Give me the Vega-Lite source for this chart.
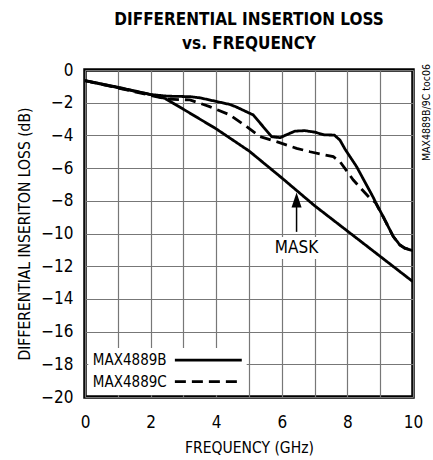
{
  "$schema": "https://vega.github.io/schema/vega-lite/v6.json",
  "autosize": "none",
  "width": 328,
  "height": 327,
  "padding": {"left": 85, "top": 70, "right": 20, "bottom": 63},
  "background": "white",
  "config": {
    "view": {"stroke": "black", "strokeWidth": 3.5},
    "font": "DejaVu Sans Condensed, sans-serif",
    "axis": {
      "domain": false,
      "ticks": false,
      "gridColor": "#777777",
      "gridWidth": 1.2,
      "gridOpacity": 1,
      "labelOverlap": false,
      "labelFont": "DejaVu Sans Condensed, sans-serif",
      "labelFontSize": 17,
      "labelColor": "black",
      "titleFont": "DejaVu Sans Condensed, sans-serif",
      "titleFontSize": 15.5,
      "titleFontWeight": "normal",
      "titleColor": "black"
    }
  },
  "title": {
    "text": ["DIFFERENTIAL INSERTION LOSS", "vs. FREQUENCY"],
    "font": "DejaVu Sans Condensed, sans-serif",
    "fontSize": 17,
    "fontWeight": "bold",
    "color": "black",
    "anchor": "middle",
    "lineHeight": 24,
    "offset": 8
  },
  "datasets": {
    "curves": [
      {"series": "MAX4889B", "f": 0, "loss": -0.65},
      {"series": "MAX4889B", "f": 1, "loss": -1.08},
      {"series": "MAX4889B", "f": 2, "loss": -1.5},
      {"series": "MAX4889B", "f": 2.5, "loss": -1.6},
      {"series": "MAX4889B", "f": 3.2, "loss": -1.63},
      {"series": "MAX4889B", "f": 3.5, "loss": -1.7},
      {"series": "MAX4889B", "f": 4.4, "loss": -2.1},
      {"series": "MAX4889B", "f": 4.6, "loss": -2.25},
      {"series": "MAX4889B", "f": 5.13, "loss": -2.75},
      {"series": "MAX4889B", "f": 5.69, "loss": -4.08},
      {"series": "MAX4889B", "f": 5.95, "loss": -4.14},
      {"series": "MAX4889B", "f": 6.1, "loss": -4.0},
      {"series": "MAX4889B", "f": 6.4, "loss": -3.74},
      {"series": "MAX4889B", "f": 6.7, "loss": -3.71},
      {"series": "MAX4889B", "f": 7.0, "loss": -3.8},
      {"series": "MAX4889B", "f": 7.3, "loss": -3.97},
      {"series": "MAX4889B", "f": 7.6, "loss": -3.98},
      {"series": "MAX4889B", "f": 7.77, "loss": -4.28},
      {"series": "MAX4889B", "f": 7.93, "loss": -4.85},
      {"series": "MAX4889B", "f": 8.28, "loss": -5.91},
      {"series": "MAX4889B", "f": 8.79, "loss": -7.8},
      {"series": "MAX4889B", "f": 8.85, "loss": -8.05},
      {"series": "MAX4889B", "f": 9.09, "loss": -8.97},
      {"series": "MAX4889B", "f": 9.4, "loss": -10.19},
      {"series": "MAX4889B", "f": 9.6, "loss": -10.7},
      {"series": "MAX4889B", "f": 9.75, "loss": -10.9},
      {"series": "MAX4889B", "f": 10, "loss": -11.05},
      {"series": "MAX4889C", "f": 0, "loss": -0.65},
      {"series": "MAX4889C", "f": 1, "loss": -1.1},
      {"series": "MAX4889C", "f": 2, "loss": -1.55},
      {"series": "MAX4889C", "f": 2.5, "loss": -1.78},
      {"series": "MAX4889C", "f": 3.2, "loss": -1.83},
      {"series": "MAX4889C", "f": 3.8, "loss": -2.24},
      {"series": "MAX4889C", "f": 4.42, "loss": -2.75},
      {"series": "MAX4889C", "f": 4.93, "loss": -3.47},
      {"series": "MAX4889C", "f": 5.34, "loss": -4.08},
      {"series": "MAX4889C", "f": 5.84, "loss": -4.38},
      {"series": "MAX4889C", "f": 6.45, "loss": -4.79},
      {"series": "MAX4889C", "f": 6.86, "loss": -5.0},
      {"series": "MAX4889C", "f": 7.57, "loss": -5.3},
      {"series": "MAX4889C", "f": 7.77, "loss": -5.6},
      {"series": "MAX4889C", "f": 8.18, "loss": -6.73},
      {"series": "MAX4889C", "f": 8.69, "loss": -7.85},
      {"series": "MAX4889C", "f": 8.85, "loss": -8.1},
      {"series": "MAX4889C", "f": 9.09, "loss": -8.97},
      {"series": "MAX4889C", "f": 9.4, "loss": -10.19},
      {"series": "MAX4889C", "f": 9.6, "loss": -10.7},
      {"series": "MAX4889C", "f": 9.75, "loss": -10.9},
      {"series": "MAX4889C", "f": 10, "loss": -11.05},
      {"series": "MASK", "f": 0, "loss": -0.65},
      {"series": "MASK", "f": 1, "loss": -1.05},
      {"series": "MASK", "f": 2, "loss": -1.5},
      {"series": "MASK", "f": 2.45, "loss": -1.75},
      {"series": "MASK", "f": 3, "loss": -2.4},
      {"series": "MASK", "f": 4, "loss": -3.6},
      {"series": "MASK", "f": 5, "loss": -4.95},
      {"series": "MASK", "f": 6, "loss": -6.6},
      {"series": "MASK", "f": 7, "loss": -8.3},
      {"series": "MASK", "f": 8, "loss": -9.85},
      {"series": "MASK", "f": 9, "loss": -11.4},
      {"series": "MASK", "f": 10, "loss": -12.95}
    ]
  },
  "layer": [
    {
      "data": {"name": "curves"},
      "mark": {"type": "line", "color": "black", "strokeWidth": 2.8, "clip": true},
      "encoding": {
        "x": {
          "field": "f", "type": "quantitative",
          "scale": {"domain": [0, 10], "nice": false, "zero": false},
          "axis": {
            "title": "FREQUENCY (GHz)",
            "values": [0, 1, 2, 3, 4, 5, 6, 7, 8, 9, 10],
            "tickCount": 20,
            "format": "d",
            "labelExpr": "datum.value % 2 === 0 ? datum.label : ''",
            "labelPadding": 17,
            "titlePadding": 10,
            "labelFlush": false
          }
        },
        "y": {
          "field": "loss", "type": "quantitative",
          "scale": {"domain": [-20, 0], "nice": false, "zero": false},
          "axis": {
            "title": "DIFFERENTIAL INSERITON LOSS (dB)",
            "values": [-20, -18, -16, -14, -12, -10, -8, -6, -4, -2, 0],
            "tickCount": 20,
            "format": "d",
            "labelPadding": 12,
            "titlePadding": 8,
            "labelFlush": false
          }
        },
        "strokeDash": {
          "field": "series", "type": "nominal",
          "scale": {"domain": ["MAX4889B", "MAX4889C", "MASK"], "range": [[1, 0], [11, 6], [1, 0]]},
          "legend": null
        }
      }
    },
    {
      "data": {"values": [{"box": "legend"}]},
      "mark": {"type": "rect", "fill": "white", "stroke": null},
      "encoding": {
        "x": {"datum": 0.1}, "x2": {"datum": 4.93},
        "y": {"datum": -19.88}, "y2": {"datum": -17.0}
      }
    },
    {
      "data": {"values": [{"label": "MAX4889B"}]},
      "mark": {"type": "text", "align": "left", "baseline": "middle", "fontSize": 15, "color": "black"},
      "encoding": {"x": {"datum": 0.24}, "y": {"datum": -17.74}, "text": {"field": "label"}}
    },
    {
      "data": {"values": [{"label": "MAX4889C"}]},
      "mark": {"type": "text", "align": "left", "baseline": "middle", "fontSize": 15, "color": "black"},
      "encoding": {"x": {"datum": 0.24}, "y": {"datum": -19.06}, "text": {"field": "label"}}
    },
    {
      "data": {"values": [{"series": "MAX4889B"}]},
      "mark": {"type": "rule", "color": "black", "strokeWidth": 2.8},
      "encoding": {"x": {"datum": 2.74}, "x2": {"datum": 4.78}, "y": {"datum": -17.74}}
    },
    {
      "data": {"values": [{"series": "MAX4889C"}]},
      "mark": {"type": "rule", "color": "black", "strokeWidth": 2.8, "strokeDash": [11, 6]},
      "encoding": {"x": {"datum": 2.74}, "x2": {"datum": 4.78}, "y": {"datum": -19.06}}
    },
    {
      "data": {"values": [{"box": "mask"}]},
      "mark": {"type": "rect", "fill": "white", "stroke": null},
      "encoding": {
        "x": {"datum": 5.64}, "x2": {"datum": 7.23},
        "y": {"datum": -10.21}, "y2": {"datum": -11.56}
      }
    },
    {
      "data": {"values": [{"label": "MASK"}]},
      "mark": {"type": "text", "align": "center", "baseline": "middle", "fontSize": 17, "color": "black"},
      "encoding": {"x": {"datum": 6.45}, "y": {"datum": -10.88}, "text": {"field": "label"}}
    },
    {
      "data": {"values": [{"label": "arrow"}]},
      "mark": {"type": "rule", "color": "black", "strokeWidth": 1.5},
      "encoding": {"x": {"datum": 6.45}, "y": {"datum": -9.9}, "y2": {"datum": -8.2}}
    },
    {
      "data": {"values": [{"label": "arrowhead"}]},
      "mark": {"type": "point", "shape": "M0,-1L0.67,1L-0.67,1Z", "size": 225, "filled": true, "color": "black", "opacity": 1},
      "encoding": {"x": {"datum": 6.45}, "y": {"datum": -7.95}}
    },
    {
      "data": {"values": [{"label": "MAX4889B/9C toc06"}]},
      "mark": {"type": "text", "align": "center", "baseline": "middle", "angle": 270, "fontSize": 10.5, "color": "black"},
      "encoding": {"x": {"datum": 10.43}, "y": {"datum": -2.6}, "text": {"field": "label"}}
    }
  ]
}
